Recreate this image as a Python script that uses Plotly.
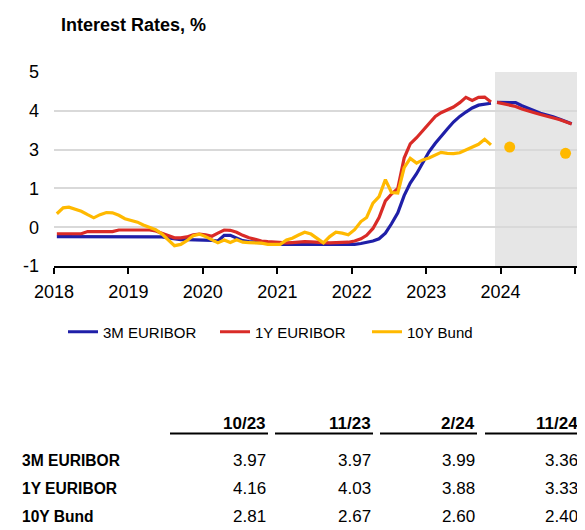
import pandas as pd
import plotly.graph_objects as go

# monthly history, Jan 2018 - Nov 2023
eur3m_hist = [
    -0.26, -0.26, -0.26, -0.26, -0.26, -0.26, -0.26, -0.26, -0.26, -0.26,
    -0.26, -0.26, -0.26, -0.26, -0.26, -0.26, -0.26, -0.27, -0.30, -0.34,
    -0.36, -0.36, -0.36, -0.36, -0.36, -0.38, -0.40, -0.22, -0.22, -0.32,
    -0.39, -0.42, -0.44, -0.46, -0.48, -0.50, -0.51, -0.51, -0.51, -0.51,
    -0.51, -0.51, -0.51, -0.51, -0.51, -0.51, -0.51, -0.51, -0.51, -0.48,
    -0.45, -0.40, -0.33, -0.15, 0.15, 0.50, 1.05, 1.45, 1.75, 2.10,
    2.45, 2.72, 2.95, 3.18, 3.40, 3.58, 3.72, 3.85, 3.94, 3.98,
    4.00,
]
eur1y_hist = [
    -0.17, -0.17, -0.17, -0.17, -0.17, -0.10, -0.10, -0.10, -0.10, -0.10,
    -0.05, -0.05, -0.05, -0.05, -0.05, -0.05, -0.08, -0.15, -0.24, -0.30,
    -0.30, -0.27, -0.20, -0.18, -0.20, -0.25, -0.15, -0.05, -0.06, -0.12,
    -0.22, -0.30, -0.35, -0.40, -0.42, -0.44, -0.45, -0.46, -0.45, -0.43,
    -0.42, -0.43, -0.45, -0.45, -0.46, -0.45, -0.44, -0.44, -0.40, -0.33,
    -0.22, 0.00, 0.35, 0.88, 1.10, 1.28, 2.25, 2.70, 2.90, 3.12,
    3.35, 3.58, 3.70, 3.80, 3.88, 4.02, 4.19, 4.09, 4.19, 4.20,
    4.04,
]
bund_hist = [
    0.47, 0.66, 0.68, 0.62, 0.55, 0.44, 0.34, 0.44, 0.51, 0.50,
    0.42, 0.31, 0.25, 0.20, 0.11, 0.03, -0.04, -0.18, -0.36, -0.55,
    -0.51, -0.39, -0.23, -0.18, -0.26, -0.36, -0.46, -0.37, -0.45, -0.36,
    -0.44, -0.45, -0.46, -0.47, -0.51, -0.51, -0.51, -0.37, -0.31, -0.21,
    -0.12, -0.18, -0.31, -0.46, -0.26, -0.12, -0.15, -0.20, -0.04, 0.22,
    0.35, 0.81, 1.02, 1.56, 1.15, 1.13, 1.94, 2.24, 2.09, 2.19,
    2.25, 2.35, 2.43, 2.40, 2.39, 2.42, 2.50, 2.59, 2.69, 2.85,
    2.67,
]
# forecasts, Dec 2023 - Dec 2024
eur3m_fc = [4.03, 4.03, 4.02, 4.02, 3.92, 3.83, 3.76, 3.68, 3.63, 3.57, 3.50, 3.43, 3.35]
eur1y_fc = [4.03, 3.99, 3.95, 3.90, 3.82, 3.77, 3.70, 3.64, 3.59, 3.54, 3.48, 3.41, 3.34]
bund_fc_dates = ["2024-02-15", "2024-11-15"]
bund_fc = [2.60, 2.40]

years = [2018, 2019, 2020, 2021, 2022, 2023, 2024, 2025]
year_labels = ["2018", "2019", "2020", "2021", "2022", "2023", "2024", ""]
y_labels = ["-1", "0", "1", "3", "4", "5"]
y_grid = [-1.2, 0.04, 1.28, 2.52, 3.76, 5.0]

table_cols = ["10/23", "11/23", "2/24", "11/24"]
table_rows = ["3M EURIBOR", "1Y EURIBOR", "10Y Bund"]
table_vals = [
    [3.97, 3.97, 3.99, 3.36],
    [4.16, 4.03, 3.88, 3.33],
    [2.81, 2.67, 2.60, 2.40],
]

BLUE = "#1f1fa8"
RED = "#d92b27"
YELLOW = "#ffb900"
FONT = "Liberation Sans, Arial, sans-serif"

hist_dates = pd.date_range("2018-01-01", periods=len(eur3m_hist), freq="MS") + pd.Timedelta(days=14)
fc_dates = pd.date_range("2023-12-01", periods=len(eur3m_fc), freq="MS") + pd.Timedelta(days=14)

# page sits 8px in from the window corner
OFF = 8
W, H = 585 - OFF, 530 - OFF
# plot area in page pixels
L, R, T, B = 54, 579, 72, 266


def px_x(x):
    return (x - L) / (R - L)


def px_y(y):
    return (B - y) / (B - T)


fig = go.Figure()
fig.add_trace(go.Scatter(x=hist_dates, y=eur3m_hist, mode="lines", name="3M EURIBOR",
                         line=dict(color=BLUE, width=3.2)))
fig.add_trace(go.Scatter(x=hist_dates, y=eur1y_hist, mode="lines", name="1Y EURIBOR",
                         line=dict(color=RED, width=3.2)))
fig.add_trace(go.Scatter(x=hist_dates, y=bund_hist, mode="lines", name="10Y Bund",
                         line=dict(color=YELLOW, width=3.2)))
fig.add_trace(go.Scatter(x=fc_dates, y=eur3m_fc, mode="lines", showlegend=False,
                         line=dict(color=BLUE, width=3.2)))
fig.add_trace(go.Scatter(x=fc_dates, y=eur1y_fc, mode="lines", showlegend=False,
                         line=dict(color=RED, width=3.2)))
fig.add_trace(go.Scatter(x=bund_fc_dates, y=bund_fc, mode="markers", showlegend=False,
                         marker=dict(color=YELLOW, size=11)))

# forecast shading
fig.add_shape(type="rect", xref="x", yref="paper", x0="2023-12-05", x1="2025-01-20",
              y0=0, y1=1, fillcolor="#e6e6e6", line=dict(width=0), layer="below")

# table under the chart
col_right = [268, 373, 477, 580]
col_left = [170, 275, 380, 485]
header_y = 423
line_y = 433.5
row_y = [460, 488.5, 516]

for c, lab in enumerate(table_cols):
    fig.add_annotation(x=px_x(col_right[c]), y=px_y(header_y), xref="paper", yref="paper",
                       text=f"<b>{lab}</b>", showarrow=False, xanchor="right", yanchor="middle",
                       font=dict(family=FONT, size=17, color="#000"))
    fig.add_shape(type="line", xref="paper", yref="paper",
                  x0=px_x(col_left[c]), x1=px_x(col_right[c]),
                  y0=px_y(line_y), y1=px_y(line_y), line=dict(color="#000", width=2))

for r, name in enumerate(table_rows):
    fig.add_annotation(x=px_x(20), y=px_y(row_y[r]), xref="paper", yref="paper",
                       text=f"<b>{name}</b>", showarrow=False, xanchor="left", yanchor="middle",
                       font=dict(family=FONT, size=15.6, color="#000"))
    for c, v in enumerate(table_vals[r]):
        fig.add_annotation(x=px_x(col_right[c]), y=px_y(row_y[r]), xref="paper", yref="paper",
                           text=f"{v:.2f}", showarrow=False, xanchor="right", yanchor="middle",
                           font=dict(family=FONT, size=17, color="#000"))

fig.update_layout(
    width=W, height=H,
    margin=dict(l=L - OFF, r=W - (R - OFF), t=T - OFF, b=H - (B - OFF)),
    paper_bgcolor="white", plot_bgcolor="white",
    font=dict(family=FONT, color="#000"),
    title=dict(text="<b>Interest Rates, %</b>", x=(61 - OFF) / W, xanchor="left",
               y=1 - (25 - OFF) / H, yanchor="middle", font=dict(family=FONT, size=18, color="#000")),
    legend=dict(orientation="h", x=px_x(63), xanchor="left", y=px_y(332), yanchor="middle",
                font=dict(family=FONT, size=15, color="#000"), entrywidth=107,
                bgcolor="rgba(0,0,0,0)"),
    xaxis=dict(
        range=["2018-01-01", "2025-01-20"],
        tickvals=[f"{y}-01-01" for y in years], ticktext=year_labels,
        ticks="outside", ticklen=6, tickwidth=1.5, tickcolor="#000",
        showline=True, linecolor="#000", linewidth=1.5,
        showgrid=False, zeroline=False, ticklabelstandoff=3,
        tickfont=dict(family=FONT, size=18, color="#000"),
    ),
    yaxis=dict(
        range=[-1.2, 5.0], tickvals=y_grid, ticktext=y_labels,
        showgrid=True, gridcolor="#d9d9d9", gridwidth=1.5,
        zeroline=False, showline=False, ticks="",
        ticklabelstandoff=14,
        tickfont=dict(family=FONT, size=18, color="#000"),
    ),
)

fig.write_html("out.html")
